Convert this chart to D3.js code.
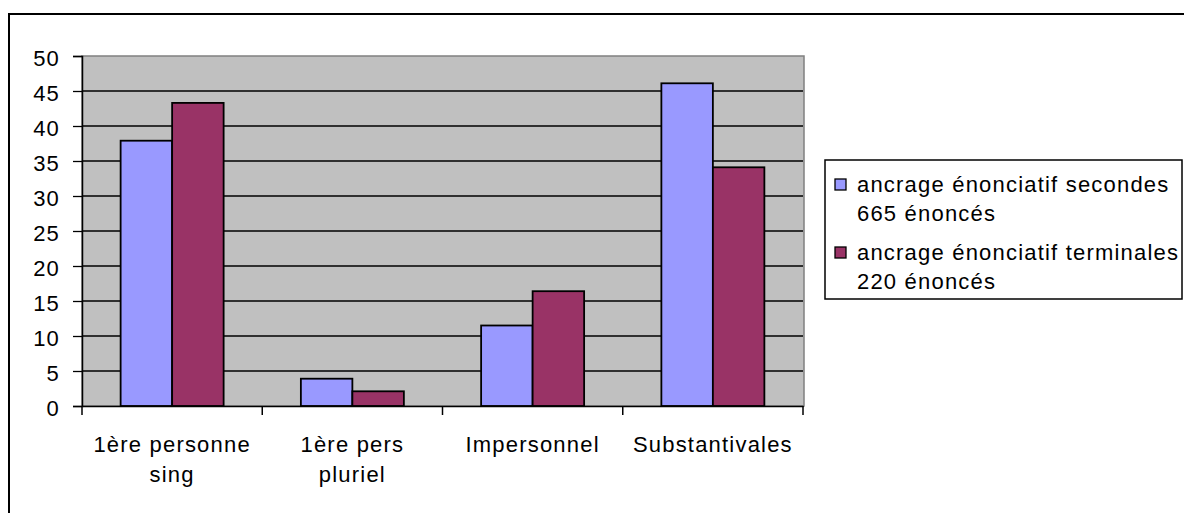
<!DOCTYPE html>
<html>
<head>
<meta charset="utf-8">
<script src="https://cdn.jsdelivr.net/npm/d3@7"></script>
<style>
  html, body { margin: 0; padding: 0; background: #fff; }
  svg { display: block; }
  text { font-family: "Liberation Sans", Arial, sans-serif; font-size: 22px; fill: #000; letter-spacing: 1.2px; }
</style>
</head>
<body>
<svg id="chart" width="1184" height="513"></svg>
<script>
// Categories and series values
const categories = ["1ère personne sing", "1ère pers pluriel", "Impersonnel", "Substantivales"];
const seriesNames = [
  ["ancrage énonciatif secondes", "665 énoncés"],
  ["ancrage énonciatif terminales", "220 énoncés"]
];
const secondes = [37.9, 3.9, 11.5, 46.1];
const terminales = [43.3, 2.1, 16.4, 34.1];
const yTicks = [0, 5, 10, 15, 20, 25, 30, 35, 40, 45, 50];

const colors = ["#9999FF", "#993366"];
const series = [secondes, terminales];

const svg = d3.select("#chart");

// Outer chart frame
svg.append("rect")
  .attr("x", 9).attr("y", 14)
  .attr("width", 1200).attr("height", 520)
  .attr("fill", "#fff").attr("stroke", "#000").attr("stroke-width", 2);

const plot = { left: 82, right: 803, top: 56, bottom: 406 };

const x0 = d3.scaleBand().domain(categories).range([plot.left, plot.right]).paddingInner(0).paddingOuter(0);
const x1 = d3.scaleBand().domain([0, 1]).range([0, x0.bandwidth()]).paddingInner(0).paddingOuter(0.75);
const y = d3.scaleLinear().domain([0, 50]).range([plot.bottom, plot.top]);

// Plot background
svg.append("rect")
  .attr("x", plot.left).attr("y", plot.top)
  .attr("width", plot.right - plot.left + 1).attr("height", plot.bottom - plot.top)
  .attr("fill", "#C0C0C0").attr("stroke", "#808080").attr("stroke-width", 1.5);

// Horizontal gridlines
svg.append("g")
  .selectAll("line")
  .data(yTicks.filter(d => d > 0 && d < 50))
  .join("line")
  .attr("x1", plot.left).attr("x2", plot.right)
  .attr("y1", d => y(d)).attr("y2", d => y(d))
  .attr("stroke", "#000").attr("stroke-width", 1.3);

// Bars
const groups = svg.append("g")
  .selectAll("g")
  .data(categories)
  .join("g")
  .attr("transform", d => `translate(${x0(d)},0)`);

groups.selectAll("rect")
  .data((d, i) => series.map((s, k) => ({ k, v: s[i] })))
  .join("rect")
  .attr("x", d => x1(d.k))
  .attr("width", x1.bandwidth())
  .attr("y", d => y(d.v))
  .attr("height", d => y(0) - y(d.v))
  .attr("fill", d => colors[d.k])
  .attr("stroke", "#000").attr("stroke-width", 1.8);

// Y axis
const yAxis = svg.append("g")
  .attr("transform", `translate(${plot.left},0)`)
  .call(d3.axisLeft(y).tickValues(yTicks).tickSize(9).tickPadding(13).tickFormat(d3.format("d")));
yAxis.select(".domain").attr("stroke", "#000").attr("stroke-width", 1.5);
yAxis.selectAll(".tick line").attr("stroke", "#000").attr("stroke-width", 1.3);
yAxis.selectAll(".tick text")
  .attr("font-family", null).attr("font-size", null)
  .attr("dy", "0.42em");

// X axis
const xAxis = svg.append("g")
  .attr("transform", `translate(0,${plot.bottom})`)
  .call(d3.axisBottom(x0).tickSize(0).tickFormat(""));
xAxis.select(".domain").attr("stroke", "#000").attr("stroke-width", 1.5);
xAxis.selectAll(".tick").remove();

// Category boundary ticks
const bounds = categories.map(c => x0(c)).concat([x0(categories[categories.length - 1]) + x0.bandwidth()]);
svg.append("g")
  .selectAll("line")
  .data(bounds)
  .join("line")
  .attr("x1", d => d).attr("x2", d => d)
  .attr("y1", plot.bottom).attr("y2", plot.bottom + 9)
  .attr("stroke", "#000").attr("stroke-width", 1.5);

// Wrapped category labels
const maxLabelWidth = 165;
const lineGap = 30;
svg.append("g")
  .selectAll("text")
  .data(categories)
  .join("text")
  .attr("text-anchor", "middle")
  .each(function (d) {
    const t = d3.select(this);
    const cx = x0(d) + x0.bandwidth() / 2;
    const words = d.split(" ");
    const lines = [];
    let cur = [];
    const probe = t.append("tspan");
    words.forEach(w => {
      const trial = cur.concat([w]).join(" ");
      probe.text(trial);
      if (cur.length && probe.node().getComputedTextLength() > maxLabelWidth) {
        lines.push(cur.join(" "));
        cur = [w];
      } else {
        cur.push(w);
      }
    });
    lines.push(cur.join(" "));
    probe.remove();
    lines.forEach((ln, i) => {
      t.append("tspan").attr("x", cx).attr("y", 452 + i * lineGap).text(ln);
    });
  });

// Legend
const legend = svg.append("g");
legend.append("rect")
  .attr("x", 825).attr("y", 160)
  .attr("width", 357).attr("height", 139)
  .attr("fill", "#fff").attr("stroke", "#000").attr("stroke-width", 1.5);

seriesNames.forEach((lines, i) => {
  const top = 179 + i * 68;
  legend.append("rect")
    .attr("x", 835).attr("y", top)
    .attr("width", 11).attr("height", 11)
    .attr("fill", colors[i]).attr("stroke", "#000").attr("stroke-width", 1.3);
  const t = legend.append("text");
  lines.forEach((ln, j) => {
    t.append("tspan").attr("x", 857).attr("y", top + 13 + j * 29).text(ln);
  });
});
</script>
</body>
</html>
